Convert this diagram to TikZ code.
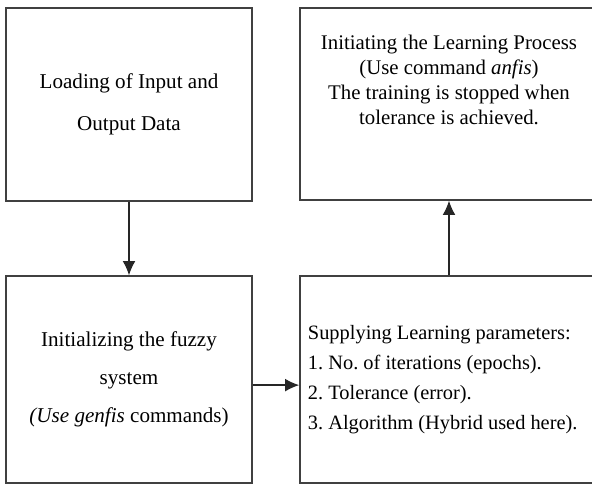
\documentclass[tikz,border=0pt]{standalone}
\usepackage{fontspec}
\setmainfont{Liberation Serif}
\usetikzlibrary{arrows.meta,positioning}

\begin{document}
\begin{tikzpicture}[x=0.025cm,y=-0.025cm,
    box/.style={draw=black!75, line width=1pt, rectangle, inner sep=0pt},
    flow/.style={draw=black!85, line width=0.9pt, -{Latex[length=10pt,width=9pt]}}]
  \useasboundingbox (0,0) rectangle (592,486);
  \frenchspacing

  % left column
  \node[box, minimum width=6.15cm, minimum height=4.825cm, align=center,
        font=\fontsize{15}{30}\selectfont] (load) at (129,104.5)
        {Loading of Input and\\Output Data};
  \node[box, minimum width=6.15cm, minimum height=5.175cm, align=center,
        font=\fontsize{15}{27}\selectfont] (init) at (129,379.5)
        {Initializing the fuzzy\\system\\\textit{(Use genfis} commands)};

  % right column (cut off at the right edge)
  \node[box, minimum width=7.45cm, minimum height=4.8cm] (learn) at (449,104) {};
  \node[align=center, inner sep=0pt, font=\fontsize{14.8}{17.8}\selectfont]
        (learntext) at (449,80)
        {Initiating the Learning Process\\(Use command \textit{anfis})\\
         The training is stopped when\\tolerance is achieved.};
  \node[box, minimum height=5.175cm, text width=7.05cm, inner xsep=0.2cm,
        align=flush left, font=\fontsize{14.5}{21.3}\selectfont] (supply) at (449,379.5)
        {Supplying Learning parameters:\\1. No. of iterations (epochs).\\
         2. Tolerance (error).\\3. Algorithm (Hybrid used here).};

  % connectors
  \draw[flow] (load) -- (init);
  \draw[flow] ([yshift=-4pt]init.east) -- ([yshift=-4pt]supply.west);
  \draw[flow] (supply) -- (learn);
\end{tikzpicture}
\end{document}
